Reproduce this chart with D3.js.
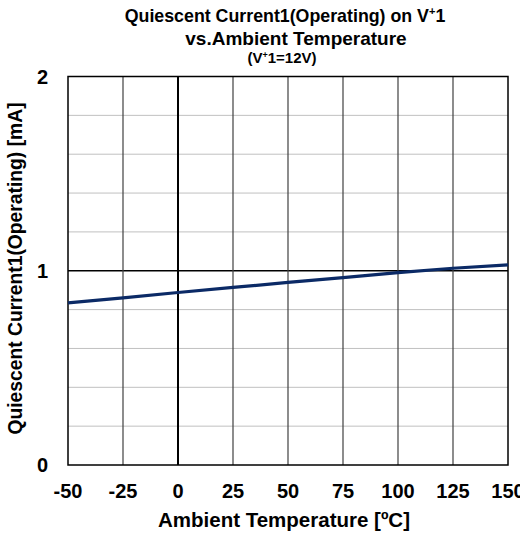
<!DOCTYPE html>
<html><head><meta charset="utf-8">
<script src="https://cdn.jsdelivr.net/npm/d3@7"></script>
<style>body{margin:0;background:#fff}svg{display:block}</style>
</head><body>
<svg id="c" width="520" height="536"></svg>
<script>
const temps = [-50, -25, 0, 25, 50, 75, 100, 125, 150];
const current = [0.835, 0.86, 0.888, 0.914, 0.94, 0.965, 0.99, 1.013, 1.03];
const xTicks = [-50, -25, 0, 25, 50, 75, 100, 125, 150];
const yTicks = [0, 1, 2];
const yMinor = [0.2, 0.4, 0.6, 0.8, 1.2, 1.4, 1.6, 1.8];

const svg = d3.select("#c");
const font = "'Liberation Sans', Arial, sans-serif";
const L = 68, R = 508, T = 76.5, B = 465;
const x = d3.scaleLinear().domain([-50, 150]).range([L, R]);
const y = d3.scaleLinear().domain([0, 2]).range([B, T]);

// minor horizontal grid
svg.append("g").selectAll("line").data(yMinor).join("line")
  .attr("x1", L).attr("x2", R).attr("y1", d => y(d)).attr("y2", d => y(d))
  .attr("stroke", "#c0c0c0").attr("stroke-width", 1);
// major horizontal
svg.append("line").attr("x1", L).attr("x2", R).attr("y1", y(1)).attr("y2", y(1))
  .attr("stroke", "#000").attr("stroke-width", 1.3);
// vertical grid
svg.append("g").selectAll("line").data(xTicks.filter(d => d > -50 && d < 150)).join("line")
  .attr("x1", d => x(d)).attr("x2", d => x(d)).attr("y1", T).attr("y2", B)
  .attr("stroke", d => d === 0 ? "#000" : "#404040").attr("stroke-width", d => d === 0 ? 2 : 1.2);

// border
svg.append("rect").attr("x", L).attr("y", T).attr("width", R - L).attr("height", B - T)
  .attr("fill", "none").attr("stroke", "#000").attr("stroke-width", 1.5);

// data line
const line = d3.line().x((d, i) => x(temps[i])).y(d => y(d));
svg.append("path").datum(current).attr("d", line)
  .attr("fill", "none").attr("stroke", "#0b2a66").attr("stroke-width", 3.2);

// tick labels
svg.append("g").selectAll("text").data(xTicks).join("text")
  .attr("x", d => x(d)).attr("y", 498).attr("text-anchor", "middle")
  .attr("font-family", font).attr("font-weight", "bold").attr("font-size", 20)
  .text(d => d);
svg.append("g").selectAll("text").data(yTicks).join("text")
  .attr("x", 48).attr("y", d => y(d) + 7).attr("text-anchor", "end")
  .attr("font-family", font).attr("font-weight", "bold").attr("font-size", 20)
  .text(d => d);

// axis titles
svg.append("text").attr("x", 284).attr("y", 527).attr("text-anchor", "middle")
  .attr("font-family", font).attr("font-weight", "bold").attr("font-size", 20.5)
  .text("Ambient Temperature [ºC]");
svg.append("text").attr("transform", "translate(22,268.5) rotate(-90)").attr("text-anchor", "middle")
  .attr("font-family", font).attr("font-weight", "bold").attr("font-size", 19.3)
  .text("Quiescent Current1(Operating) [mA]");

// titles
const t1 = svg.append("text").attr("x", 285).attr("y", 22).attr("text-anchor", "middle")
  .attr("font-family", font).attr("font-weight", "bold").attr("font-size", 17.8);
t1.append("tspan").text("Quiescent Current1(Operating) on V");
t1.append("tspan").attr("font-size", 11).attr("dy", -7).text("+");
t1.append("tspan").attr("dy", 7).text("1");
svg.append("text").attr("x", 296).attr("y", 45).attr("text-anchor", "middle")
  .attr("font-family", font).attr("font-weight", "bold").attr("font-size", 19)
  .text("vs.Ambient Temperature");
const t3 = svg.append("text").attr("x", 282).attr("y", 63).attr("text-anchor", "middle")
  .attr("font-family", font).attr("font-weight", "bold").attr("font-size", 15);
t3.append("tspan").text("(V");
t3.append("tspan").attr("font-size", 9).attr("dy", -5).text("+");
t3.append("tspan").attr("dy", 5).text("1=12V)");
</script>
</body></html>
